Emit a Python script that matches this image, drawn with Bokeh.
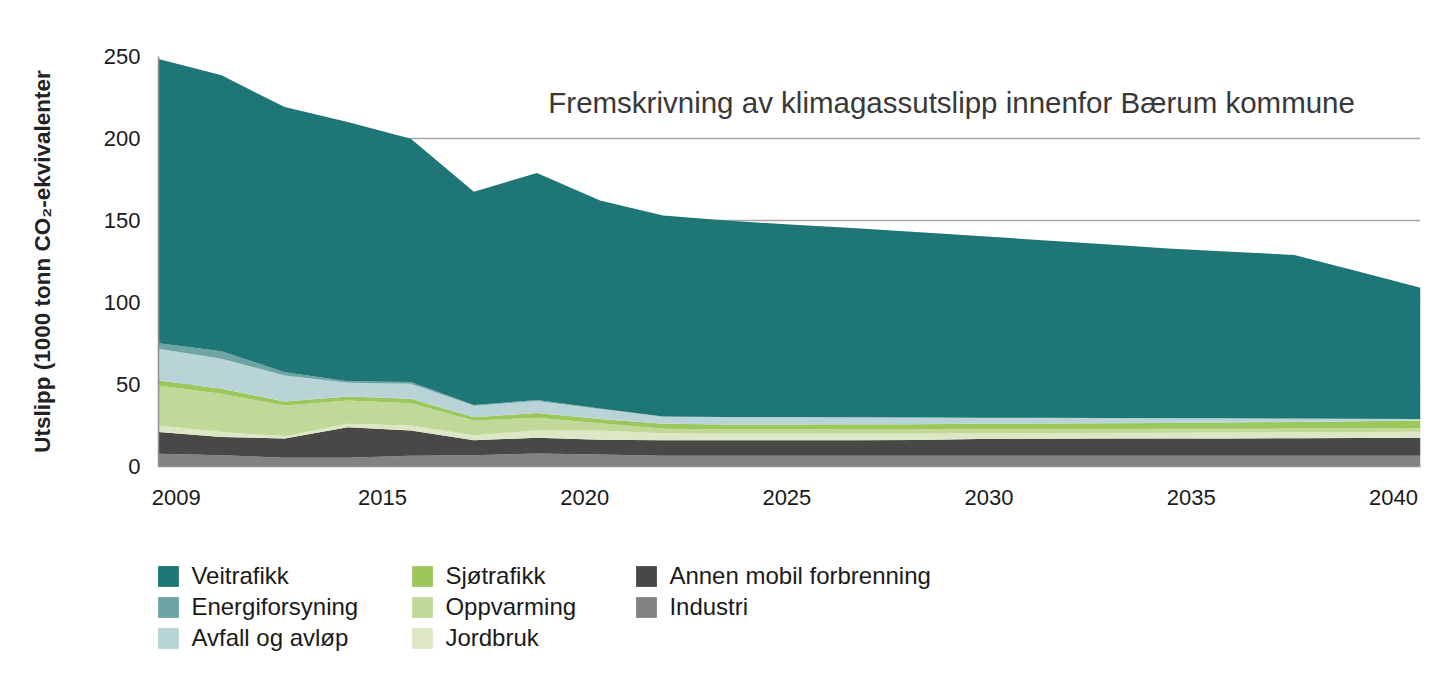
from bokeh.plotting import figure
from bokeh.layouts import column
from bokeh.models import ColumnDataSource, Range1d, FixedTicker, Legend, LegendItem, Label
from bokeh.embed import file_html
from bokeh.resources import INLINE

# ---- data ----
years = [2009.46, 2011.02, 2012.58, 2014.14, 2015.70, 2017.26, 2018.82, 2020.38, 2021.94,
         2023.50, 2025.07, 2026.63, 2028.19, 2029.75, 2031.31, 2032.87, 2034.43, 2035.99,
         2037.55, 2039.11, 2040.67]

industri = [7.7, 6.8, 5.4, 5.4, 6.6, 6.8, 8.0, 7.3, 6.6, 6.6, 6.6, 6.6, 6.6, 6.6, 6.6, 6.6,
            6.6, 6.6, 6.6, 6.6, 6.6]
annen_mobil = [13.3, 11.2, 11.6, 18.6, 15.4, 9.2, 9.5, 9.0, 9.4, 9.4, 9.4, 9.4, 9.6, 10.2,
               10.3, 10.4, 10.4, 10.5, 10.7, 10.8, 10.9]
jordbruk = [4.0, 3.0, 1.4, 2.0, 3.0, 3.0, 4.5, 5.7, 4.3, 4.0, 4.0, 4.0, 3.8, 3.5, 3.5, 3.5,
            3.6, 3.6, 3.6, 3.6, 3.7]
oppvarming = [24.4, 23.3, 18.8, 14.2, 13.6, 9.0, 7.7, 4.4, 2.7, 2.6, 2.6, 2.6, 2.6, 2.4, 2.4,
              2.4, 2.4, 2.3, 2.2, 2.2, 2.1]
sjotrafikk = [3.0, 3.1, 2.4, 2.5, 2.7, 2.1, 2.9, 2.6, 3.0, 3.0, 3.0, 3.1, 3.2, 3.3, 3.4, 3.5,
              3.6, 3.8, 4.1, 4.4, 4.7]
avfall = [19.4, 18.3, 15.9, 8.3, 9.2, 6.9, 7.4, 6.0, 4.3, 4.4, 4.4, 4.2, 4.0, 3.6, 3.3, 3.0,
          2.7, 2.4, 1.9, 1.4, 0.8]
energi = [3.4, 4.5, 2.0, 1.0, 1.0, 0.5, 0.5, 0.3, 0.2, 0.2, 0.2, 0.2, 0.2, 0.2, 0.2, 0.2,
          0.2, 0.2, 0.2, 0.1, 0.1]
veitrafikk = [173.3, 168.3, 161.7, 158.0, 148.3, 130.0, 138.5, 126.9, 122.5, 119.8, 117.3,
              115.4, 113.0, 110.7, 108.3, 105.9, 103.5, 101.6, 99.7, 89.9, 80.1]

series_keys = ["industri", "annen", "jordbruk", "oppvarming", "sjo", "avfall", "energi", "vei"]
series_names = ["Industri", "Annen mobil forbrenning", "Jordbruk", "Oppvarming", "Sjøtrafikk",
                "Avfall og avløp", "Energiforsyning", "Veitrafikk"]
series_colors = ["#828282", "#4a4846", "#dce8c5", "#c0d898", "#9cc75b", "#b9d4d7", "#6ea4a3",
                 "#1f7676"]
legend_columns = [["Veitrafikk", "Energiforsyning", "Avfall og avløp"],
                  ["Sjøtrafikk", "Oppvarming", "Jordbruk"],
                  ["Annen mobil forbrenning", "Industri"]]

xtick_values = [2009.9, 2015, 2020, 2025, 2030, 2035, 2040]
xtick_labels = ["2009", "2015", "2020", "2025", "2030", "2035", "2040"]
ytick_values = [0, 50, 100, 150, 200, 250]

title_text = "Fremskrivning av klimagassutslipp innenfor Bærum kommune"
ylabel_text = "Utslipp (1000 tonn CO\u2082-ekvivalenter"

FONT = "Liberation Sans"

# ---- main chart ----
src = ColumnDataSource(dict(x=years, industri=industri, annen=annen_mobil, jordbruk=jordbruk,
                            oppvarming=oppvarming, sjo=sjotrafikk, avfall=avfall,
                            energi=energi, vei=veitrafikk))

p = figure(width=1438, height=520, output_backend="svg", toolbar_location=None,
           x_range=Range1d(2009.46, 2040.67), y_range=Range1d(0, 250),
           min_border_left=158, min_border_right=18, min_border_top=56, min_border_bottom=54)

p.varea_stack(stackers=series_keys, x="x", color=series_colors, source=src)

p.outline_line_color = None
p.background_fill_color = "white"
p.border_fill_color = "white"
p.xgrid.grid_line_color = None
p.ygrid.grid_line_color = "#a6a6a6"
p.ygrid.grid_line_width = 1.5
p.ygrid.ticker = FixedTicker(ticks=ytick_values)

p.xaxis.ticker = FixedTicker(ticks=xtick_values)
p.xaxis.major_label_overrides = {v: l for v, l in zip(xtick_values, xtick_labels)}
p.yaxis.ticker = FixedTicker(ticks=ytick_values)
for ax in (p.xaxis, p.yaxis):
    ax.axis_line_color = "#8f8f8f"
    ax.axis_line_width = 1.5
    ax.major_tick_line_color = None
    ax.minor_tick_line_color = None
    ax.major_tick_out = 0
    ax.major_tick_in = 0
    ax.minor_tick_out = 0
    ax.major_label_text_font = FONT
    ax.major_label_text_font_size = "22px"
    ax.major_label_text_color = "#1a1a1a"

p.xaxis.major_label_standoff = 23
p.yaxis.major_label_standoff = 18
p.yaxis.axis_label = ylabel_text
p.yaxis.axis_label_text_font = FONT
p.yaxis.axis_label_text_font_style = "bold"
p.yaxis.axis_label_text_font_size = "22.5px"
p.yaxis.axis_label_text_color = "#222222"
p.yaxis.axis_label_standoff = 46

title = Label(x=2019.1, y=222, text=title_text, text_font=FONT, text_font_size="29.5px",
              text_color="#383838", text_align="left", text_baseline="middle")
p.add_layout(title)

# ---- legend panel ----
lp = figure(width=1438, height=149, output_backend="svg", toolbar_location=None,
            x_range=Range1d(0, 1), y_range=Range1d(0, 1),
            x_axis_location=None, y_axis_location=None,
            min_border_left=0, min_border_right=0, min_border_top=0, min_border_bottom=0)
lp.outline_line_color = None
lp.xgrid.grid_line_color = None
lp.ygrid.grid_line_color = None
lp.border_fill_color = "white"
lp.background_fill_color = "white"

# zero-area stand-in renderers, used only to give the legend its swatches
swatches = {}
for name, color in zip(series_names, series_colors):
    swatches[name] = lp.varea(x=[0, 0], y1=[0, 0], y2=[0, 0], fill_color=color)

legend_x = [-2.6, 251.4, 475.4]
ROW = 31.5
for names, lx in zip(legend_columns, legend_x):
    items = [LegendItem(label=n, renderers=[swatches[n]]) for n in names]
    bottom = 17 + (3 - len(names)) * ROW
    lg = Legend(items=items, location=(lx, bottom), orientation="vertical",
                glyph_width=26, glyph_height=26, label_height=21, spacing=3,
                padding=0, margin=0, border_line_color=None, background_fill_alpha=0,
                label_text_font=FONT, label_text_font_size="24px", label_standoff=10,
                label_text_color="#1a1a1a", label_text_baseline="middle")
    lp.add_layout(lg)

layout = column(p, lp, spacing=0)
open("out.html", "w").write(file_html(layout, INLINE))
